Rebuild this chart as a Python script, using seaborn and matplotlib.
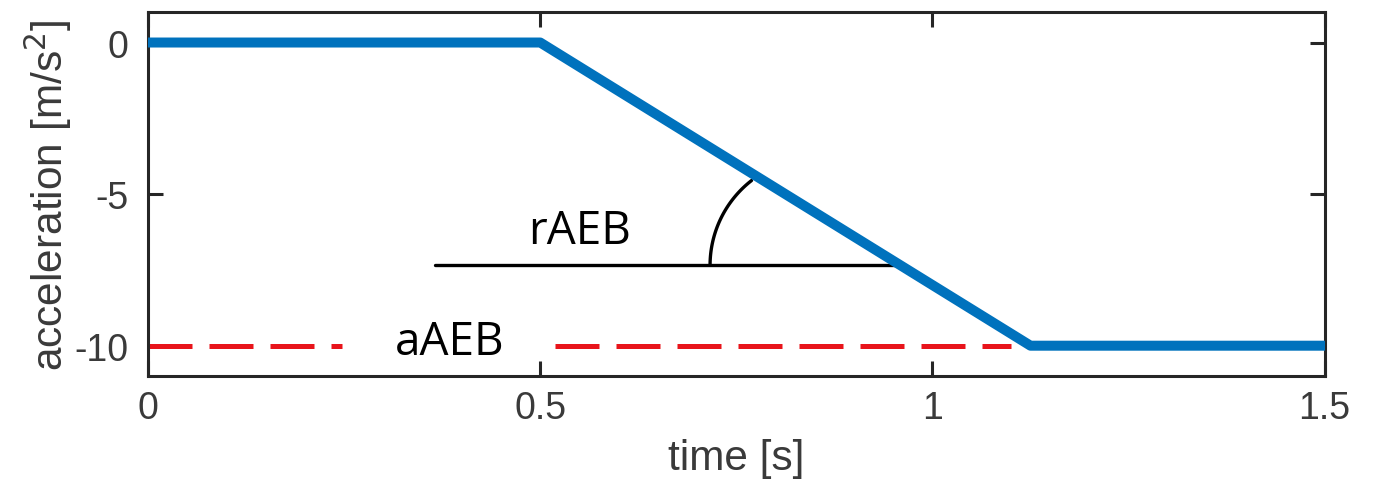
import numpy as np
import pandas as pd
import seaborn as sns
import matplotlib
matplotlib.use("Agg")
import matplotlib.pyplot as plt

# Deceleration profile of the AEB manoeuvre
time_s = [0.0, 0.5, 1.125, 1.5]
accel = [0.0, 0.0, -10.0, -10.0]

# Target deceleration (aAEB), drawn in two pieces around its label
aaeb_value = -10.0
aaeb_left = [0.0, 0.247]
aaeb_right = [0.519, 1.10]

# Reference line for the ramp rate (rAEB)
raeb_level = -7.35
raeb_x = [0.366, 0.952]

x_ticks = [0, 0.5, 1, 1.5]
x_tick_labels = ["0", "0.5", "1", "1.5"]
y_ticks = [-10, -5, 0]
y_tick_labels = ["-10", "-5", "0"]

sns.set_theme(style="white")
plt.rcParams["font.family"] = ["Liberation Sans", "DejaVu Sans"]

fig = plt.figure(figsize=(13.73, 4.89), dpi=100)
ax = fig.add_axes([0.1078, 0.229, 0.857, 0.744])

profile = pd.DataFrame({"time": time_s, "accel": accel})

# dashed target line
for seg in (aaeb_left, aaeb_right):
    ax.plot(seg, [aaeb_value, aaeb_value], color="#e8141b", lw=3.6,
            dashes=(8.8, 3.4), dash_capstyle="butt", zorder=2)

# rate reference line and the angle arc marking the ramp
ax.plot(raeb_x, [raeb_level, raeb_level], color="black", lw=2.4, zorder=2)
arc_cx, arc_rx, arc_ry = 0.854, 0.1375, 3.55
t = np.deg2rad(np.linspace(128, 180, 60))
ax.plot(arc_cx + arc_rx * np.cos(t), raeb_level + arc_ry * np.sin(t),
        color="black", lw=2.4, solid_capstyle="round", zorder=2)

sns.lineplot(data=profile, x="time", y="accel", ax=ax, color="#0072bd",
             lw=7.2, solid_capstyle="round", zorder=3, sort=False)

ax.text(0.55, -6.62, "rAEB", fontsize=33, family="Open Sans", ha="center",
        va="baseline", color="black")
ax.text(0.385, -10.28, "aAEB", fontsize=33, family="Open Sans", ha="center",
        va="baseline", color="black")

ax.set_xlim(0, 1.5)
ax.set_ylim(-11, 1)
ax.set_xticks(x_ticks)
ax.set_xticklabels(x_tick_labels)
ax.set_yticks(y_ticks)
ax.set_yticklabels(y_tick_labels)

ax.set_xlabel("time [s]", fontsize=30.5, color="#3a3a3a", labelpad=9)
ax.set_ylabel("acceleration [m/s$^2$]", fontsize=30.5, color="#3a3a3a", labelpad=0)

ax.tick_params(axis="both", which="major", direction="in", length=11, width=2.2,
               color="#262626", labelsize=27, labelcolor="#3a3a3a",
               top=True, right=True, bottom=True, left=True)
ax.tick_params(axis="x", pad=10)
ax.tick_params(axis="y", pad=14)

for sp in ax.spines.values():
    sp.set_visible(True)
    sp.set_color("#262626")
    sp.set_linewidth(2.2)

fig.savefig("out.png", dpi=100, facecolor="white")
